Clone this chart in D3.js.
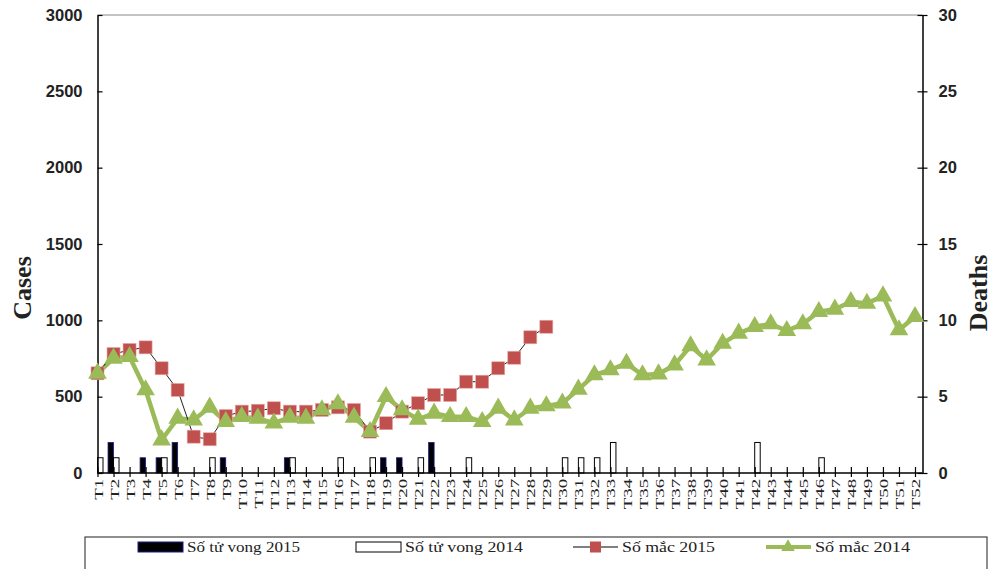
<!DOCTYPE html>
<html>
<head>
<meta charset="utf-8">
<script src="https://cdn.jsdelivr.net/npm/d3@7"></script>
<style>
  body { margin: 0; background: #fff; }
  svg { display: block; }
</style>
</head>
<body>
<div id="main"></div>
<script>
// Data
const weeks = d3.range(1, 53).map((i) => "T" + i);

const cases2015 = [653, 779, 806, 823, 686, 544, 238, 221, 373, 402, 408, 424, 402, 402,
  413, 430, 413, 271, 326, 402, 457, 511, 511, 598, 598, 686, 755, 889, 958];

const cases2014 = [653, 751, 762, 544, 216, 358, 347, 430, 336, 369, 358, 326, 365, 358,
  413, 452, 365, 271, 500, 413, 352, 391, 369, 369, 336, 424, 347, 424, 439, 457,
  548, 642, 675, 718, 642, 648, 707, 832, 740, 849, 915, 958, 976, 932, 976, 1057,
  1072, 1122, 1111, 1159, 937, 1024];

// deaths, by week (only non-zero weeks listed)
const deaths2015 = { T2: 2, T4: 1, T5: 1, T6: 2, T9: 1, T13: 1, T19: 1, T20: 1, T22: 2 };
const deaths2014 = { T1: 1, T2: 1, T5: 1, T8: 1, T13: 1, T16: 1, T18: 1, T21: 1, T24: 1,
  T30: 1, T31: 1, T32: 1, T33: 2, T42: 2, T46: 1 };

const leftTicks = [0, 500, 1000, 1500, 2000, 2500, 3000];
const rightTicks = [0, 5, 10, 15, 20, 25, 30];

const legendItems = ["Số tử vong 2015", "Số tử vong 2014", "Số mắc 2015", "Số mắc 2014"];

// Layout config
const width = 990;
const height = 569;
const margin = { top: 15, right: 67.5, bottom: 96, left: 97.5 };
const innerWidth = width - margin.left - margin.right;
const innerHeight = height - margin.top - margin.bottom;

const red = "#C0504D";
const green = "#9BBB59";

const svg = d3.select("#main").append("svg")
  .attr("width", width)
  .attr("height", height);

const g = svg.append("g")
  .attr("transform", `translate(${margin.left},${margin.top})`);

// Scales
const x = d3.scalePoint().domain(weeks).range([0, innerWidth - 7.5]);
const y = d3.scaleLinear().domain([0, 3000]).range([innerHeight, 0]);
const y2 = d3.scaleLinear().domain([0, 30]).range([innerHeight, 0]);

// top border
g.append("line")
  .attr("x1", 0).attr("x2", innerWidth)
  .attr("y1", 0).attr("y2", 0)
  .attr("stroke", "#888").attr("stroke-width", 1);

// Bars (deaths, right axis)
const barW = 5.5;
g.append("g").selectAll("rect")
  .data(Object.entries(deaths2015))
  .join("rect")
  .attr("x", (d) => x(d[0]) - barW)
  .attr("y", (d) => y2(d[1]))
  .attr("width", barW)
  .attr("height", (d) => innerHeight - y2(d[1]))
  .attr("fill", "#000")
  .attr("stroke", "#1c1c8c")
  .attr("stroke-width", 0.8);

g.append("g").selectAll("rect")
  .data(Object.entries(deaths2014))
  .join("rect")
  .attr("x", (d) => x(d[0]))
  .attr("y", (d) => y2(d[1]))
  .attr("width", barW)
  .attr("height", (d) => innerHeight - y2(d[1]))
  .attr("fill", "#fff")
  .attr("stroke", "#000")
  .attr("stroke-width", 1);

// Axes
const fontAxis = "Arial, 'Liberation Sans', sans-serif";
const fontSerif = "'Liberation Serif', 'Times New Roman', serif";

const yAxis = g.append("g")
  .call(d3.axisLeft(y).tickValues(leftTicks).tickFormat(d3.format("d"))
    .tickSizeInner(5).tickSizeOuter(0).tickPadding(10));
yAxis.selectAll(".tick line").attr("x2", 5);
const y2Axis = g.append("g")
  .attr("transform", `translate(${innerWidth},0)`)
  .call(d3.axisRight(y2).tickValues(rightTicks).tickFormat(d3.format("d"))
    .tickSizeInner(5).tickSizeOuter(0).tickPadding(11));
y2Axis.selectAll(".tick line").attr("x1", -5);

[yAxis, y2Axis].forEach((ax) => {
  ax.select(".domain").attr("stroke", "#000").attr("stroke-width", 1.5);
  ax.selectAll(".tick line").attr("stroke", "#000").attr("stroke-width", 1.2);
  ax.selectAll(".tick text")
    .attr("font-family", fontAxis)
    .attr("font-weight", "bold")
    .attr("font-size", 16.5)
    .attr("fill", "#222");
});

const xAxis = g.append("g")
  .attr("transform", `translate(0,${innerHeight})`)
  .call(d3.axisBottom(x).tickSizeInner(4).tickSizeOuter(0).tickPadding(4));
xAxis.select(".domain").attr("d", `M0,0H${innerWidth}`).attr("stroke", "#000").attr("stroke-width", 1.5);
xAxis.selectAll(".tick line").attr("y1", -6).attr("stroke", "#000").attr("stroke-width", 1.2);
// labels are drawn long and narrow, as in the source
xAxis.selectAll(".tick text")
  .attr("font-family", fontSerif)
  .attr("font-size", 13)
  .attr("fill", "#222")
  .attr("text-anchor", "end")
  .attr("dy", "0.35em")
  .attr("transform", "rotate(-90) scale(1.45,1)")
  .attr("x", -4)
  .attr("y", 0);

// Axis labels
svg.append("text")
  .attr("transform", `translate(31,${288}) rotate(-90)`)
  .attr("text-anchor", "middle")
  .attr("font-family", fontSerif)
  .attr("font-weight", "bold")
  .attr("font-size", 26)
  .attr("fill", "#222")
  .text("Cases");

svg.append("text")
  .attr("transform", `translate(987,${293}) rotate(-90)`)
  .attr("text-anchor", "middle")
  .attr("font-family", fontSerif)
  .attr("font-weight", "bold")
  .attr("font-size", 26)
  .attr("fill", "#222")
  .text("Deaths");

// Lines
const line = d3.line().x((d, i) => x(weeks[i])).y((d) => y(d));

g.append("path")
  .datum(cases2014)
  .attr("fill", "none")
  .attr("stroke", green)
  .attr("stroke-width", 4.5)
  .attr("stroke-linejoin", "round")
  .attr("d", line);

g.append("path")
  .datum(cases2015)
  .attr("fill", "none")
  .attr("stroke", "#222")
  .attr("stroke-width", 1)
  .attr("d", line);

const tri = d3.symbol().type(d3.symbolTriangle).size(150);

g.append("g").selectAll("rect")
  .data(cases2015)
  .join("rect")
  .attr("x", (d, i) => x(weeks[i]) - 6.5)
  .attr("y", (d) => y(d) - 6.5)
  .attr("width", 13)
  .attr("height", 13)
  .attr("fill", red)
  .attr("stroke", "#e8a8a6")
  .attr("stroke-width", 0.6);

g.append("g").selectAll("path")
  .data(cases2014)
  .join("path")
  .attr("transform", (d, i) => `translate(${x(weeks[i])},${y(d)})`)
  .attr("d", tri)
  .attr("fill", green);

// Legend
const lg = svg.append("g");
lg.append("rect")
  .attr("x", 85).attr("y", 537)
  .attr("width", 902).attr("height", 40)
  .attr("fill", "#fff")
  .attr("stroke", "#444")
  .attr("stroke-width", 1.2);

const legendX = [138, 356, 573, 766];
const legendW = [113, 118, 93, 95];
const ly = 547;
legendItems.forEach((label, i) => {
  const lx = legendX[i];
  const item = lg.append("g");
  if (i === 0) {
    item.append("rect").attr("x", lx).attr("y", ly - 5).attr("width", 45).attr("height", 10)
      .attr("fill", "#000").attr("stroke", "#1c1c8c");
  } else if (i === 1) {
    item.append("rect").attr("x", lx).attr("y", ly - 5).attr("width", 45).attr("height", 10)
      .attr("fill", "#fff").attr("stroke", "#000");
  } else if (i === 2) {
    item.append("line").attr("x1", lx).attr("x2", lx + 45).attr("y1", ly).attr("y2", ly)
      .attr("stroke", "#000").attr("stroke-width", 1);
    item.append("rect").attr("x", lx + 17).attr("y", ly - 5.5).attr("width", 11).attr("height", 11)
      .attr("fill", red);
  } else {
    item.append("line").attr("x1", lx).attr("x2", lx + 45).attr("y1", ly).attr("y2", ly)
      .attr("stroke", green).attr("stroke-width", 4);
    item.append("path").attr("transform", `translate(${lx + 22},${ly})`)
      .attr("d", d3.symbol().type(d3.symbolTriangle).size(80)).attr("fill", green);
  }
  item.append("text")
    .attr("x", lx + 49)
    .attr("y", ly)
    .attr("dy", "0.35em")
    .attr("font-family", fontSerif)
    .attr("font-size", 14)
    .attr("fill", "#222")
    .attr("textLength", legendW[i])
    .attr("lengthAdjust", "spacingAndGlyphs")
    .text(label);
});
</script>
</body>
</html>
